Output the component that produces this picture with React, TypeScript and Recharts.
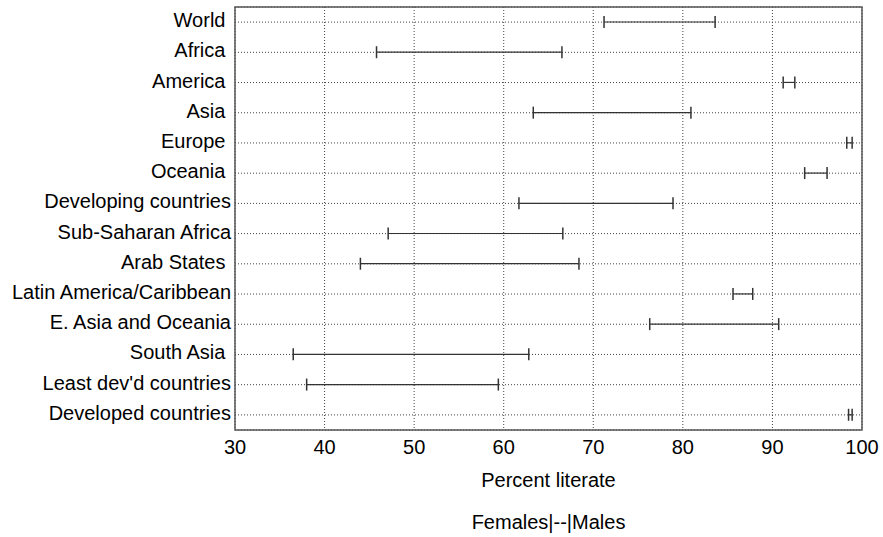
import {
  ComposedChart,
  Bar,
  XAxis,
  YAxis,
  CartesianGrid,
  ReferenceArea,
} from "recharts";

// some labels carry a trailing blank in the original, which nudges them left
const regions = [
  "World ",
  "Africa ",
  "America ",
  "Asia ",
  "Europe ",
  "Oceania ",
  "Developing countries",
  "Sub-Saharan Africa",
  "Arab States ",
  "Latin America/Caribbean",
  "E. Asia and Oceania",
  "South Asia ",
  "Least dev'd countries",
  "Developed countries",
];

const females = [71.2, 45.8, 91.2, 63.3, 98.3, 93.6, 61.7, 47.1, 44.0, 85.6, 76.3, 36.5, 38.0, 98.5];
const males = [83.6, 66.5, 92.5, 80.9, 98.9, 96.1, 78.9, 66.6, 68.4, 87.8, 90.7, 62.8, 59.4, 98.9];

const xTicks = [30, 40, 50, 60, 70, 80, 90, 100];

const FONT = '"Liberation Sans", Arial, Helvetica, sans-serif';

const data = regions.map((name, i) => ({
  name,
  range: [females[i], males[i]],
}));

function RangeShape(props: any) {
  const { x, y, width, height } = props;
  const cy = y + height / 2;
  const x2 = x + width;
  return (
    <g>
      <line x1={x} x2={x2} y1={cy} y2={cy} stroke="#333" strokeWidth={1.2} />
      <line x1={x} x2={x} y1={cy - 6} y2={cy + 6} stroke="#333" strokeWidth={1.5} />
      <line x1={x2} x2={x2} y1={cy - 6} y2={cy + 6} stroke="#333" strokeWidth={1.5} />
    </g>
  );
}

function RegionTick(props: any) {
  const { x, y, payload } = props;
  return (
    <text
      x={x}
      y={y}
      dy={5}
      textAnchor="end"
      fontFamily={FONT}
      fontSize={20}
      fill="#000"
      style={{ whiteSpace: "pre" }}
    >
      {payload.value}
    </text>
  );
}

function AxisTitles(props: any) {
  const { viewBox } = props;
  const cx = viewBox.x + viewBox.width / 2;
  return (
    <g fontFamily={FONT} fontSize={20} fill="#000">
      <text x={cx} y={viewBox.y + 57} textAnchor="middle">
        Percent literate
      </text>
      <text x={cx} y={viewBox.y + 99} textAnchor="middle">
        Females|--|Males
      </text>
    </g>
  );
}

export default function App() {
  return (
    <div style={{ position: "absolute", left: 0, top: 0, background: "#fff" }}>
      <ComposedChart
        layout="vertical"
        width={883}
        height={537}
        data={data}
        margin={{ top: 7, right: 21, left: 0, bottom: 0 }}
        barCategoryGap={0}
      >
        <CartesianGrid stroke="#444" strokeDasharray="1 2" />
        <XAxis
          type="number"
          domain={[30, 100]}
          ticks={xTicks}
          allowDataOverflow
          axisLine={false}
          tickLine={false}
          tickSize={0}
          tickMargin={10}
          height={107}
          tick={{ fontSize: 20, fill: "#000", fontFamily: FONT }}
          label={<AxisTitles />}
        />
        <YAxis
          type="category"
          dataKey="name"
          width={235}
          axisLine={false}
          tickLine={false}
          tickSize={0}
          tickMargin={4}
          interval={0}
          tick={<RegionTick />}
        />
        <ReferenceArea x1={30} x2={100} fill="none" stroke="#555" strokeWidth={1.5} />
        <Bar dataKey="range" barSize={14} shape={<RangeShape />} isAnimationActive={false} />
      </ComposedChart>
    </div>
  );
}
